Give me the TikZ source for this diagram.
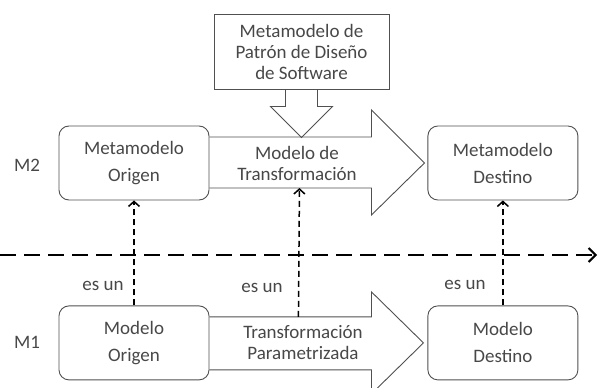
\documentclass[tikz,border=0pt]{standalone}
\usepackage{fontspec}
\setmainfont{Carlito}
\usetikzlibrary{arrows.meta}
\usetikzlibrary{calc}
\usetikzlibrary{positioning}
\definecolor{mdtext} {RGB}{72,72,72}
\definecolor{mdline} {RGB}{80,80,80}

\tikzset{
  mbox/.style={rectangle, rounded corners=10pt,
               draw=mdline, line width=0.9pt, fill=white,
               text=mdtext, align=center,
               inner sep=0pt, minimum width=150pt, minimum height=74pt,
               font=\fontsize{19}{27}\selectfont},
  plain/.style={text=mdtext, align=center, inner sep=0pt,
                font=\fontsize{19}{21}\selectfont},
  blockarrow/.style={draw=mdline, line width=0.9pt, line join=miter},
  isa/.style={draw=black, line width=1.5pt, dash pattern=on 6pt off 4pt,
              -{Straight Barb[length=5pt,width=11pt,line width=1.5pt]}},
  level/.style={draw=black, line width=2pt, dash pattern=on 16pt off 8pt,
                -{Straight Barb[length=7pt,width=14pt,line width=2pt]}}
}

\begin{document}
\begin{tikzpicture}[x=1pt, y=-1pt]
            \useasboundingbox [fill=white] (0,0) rectangle (598,388);

            % metamodels (M2)
            \node (mmorig) [mbox] at(134,163) {Metamodelo\\Origen};
            \node (mmdest) [mbox, right=218pt of mmorig] {Metamodelo\\Destino};

            % models (M1)
            \node (morig) [mbox, below=105pt of mmorig] {Modelo\\Origen};
            \node (mdest) [mbox, below=105pt of mmdest] {Modelo\\Destino};

            % pattern metamodel
            \node (patron)
              [rectangle, draw=mdline, line width=0.9pt, fill=white,
               text=mdtext, align=center,
               inner sep=0pt, minimum width=175pt, minimum height=75pt,
               font=\fontsize{19}{21}\selectfont]
              at(301.5,51.5)
              {Metamodelo de\\Patrón de Diseño\\de Software};

            % block arrows
            \draw [blockarrow, shift={(patron.south)}]
              (-16,0) -- (-16,17) -- (-31,17) -- (0,48)
              -- (31,17) -- (16,17) -- (16,0);
            \draw [blockarrow, shift={(mmorig.east)}]
              (0,-26) -- (162,-26) -- (162,-53) -- (215,0)
              -- (162,52) -- (162,25) -- (0,25);
            \draw [blockarrow, shift={(morig.east)}]
              (0,-26) -- (162,-26) -- (162,-51) -- (214,0)
              -- (162,51) -- (162,27) -- (0,27);

            % arrow labels
            \node (trmodel) [plain] at(297,163) {Modelo de\\Transformación};
            \node (trparam) [plain] at(303,343) {Transformación\\Parametrizada};

            % levels
            \node (lblm2) [plain] at(27,165) {M2};
            \node (lblm1) [plain] at(27,342) {M1};
            \coordinate (lvlstart) at (0,255);
            \coordinate (lvlend) at (597,255);
            \draw [level] (lvlstart) -- (lvlend);

            % instance-of relations
            \coordinate (trtop) at ($(morig.east)+(89,-26)$);
            \coordinate (trbot) at ($(mmorig.east)+(90,25)$);
            \draw [isa] (morig.north) -- (mmorig.south);
            \draw [isa] (trtop) -- (trbot);
            \draw [isa] (mdest.north) -- (mdest.north |- mmdest.south);

            \node (esun1) [plain] at(103,286) {es un};
            \node (esun2) [plain] at(262,288) {es un};
            \node (esun3) [plain] at(465,285) {es un};
        \end{tikzpicture}
\end{document}
